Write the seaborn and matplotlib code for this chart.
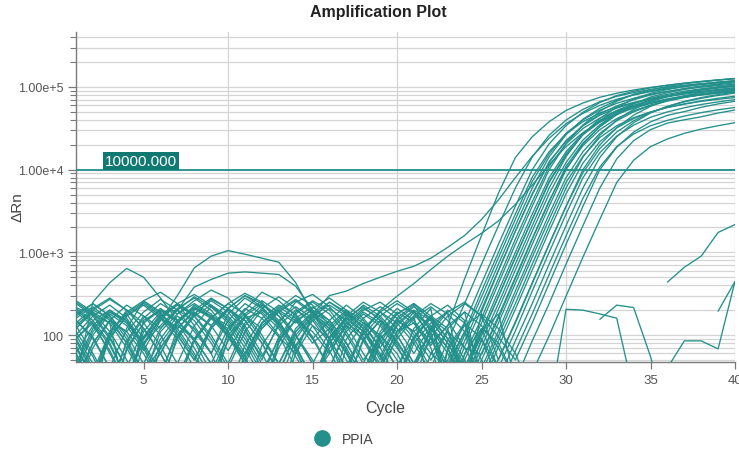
import numpy as np
import pandas as pd
import matplotlib
matplotlib.use("Agg")
import matplotlib.pyplot as plt
import seaborn as sns
from matplotlib.ticker import FixedLocator, FixedFormatter, LogLocator, NullFormatter
from matplotlib.lines import Line2D

nan = float("nan")

# ---- chart values -------------------------------------------------------
cycles = list(range(1, 41))
target = "PPIA"
threshold = 10000.0
y_major = [1e2, 1e3, 1e4, 1e5]
y_major_labels = ["100", "1.00e+3", "1.00e+4", "1.00e+5"]
x_ticks = [5, 10, 15, 20, 25, 30, 35, 40]
x_grid = [10, 20, 30, 40]

# Delta Rn per cycle (cycles 1-20, then 21-40) for each well
well_01 = [215, 175, 140, 15, 150, 200, 140, 70, 30, 85, 160, 190, 120, 55, 25, 70, 130, 90, 45, 110,
           140, 75, 130, 480, 1600, 5200, 14000, 25000, 38000, 52000, 64000, 75000, 84000, 92000, 99000, 105000, 111000, 116000, 121000, 126000]
well_02 = [30, 250, 430, 640, 500, 280, 150, 90, 45, 120, 210, 160, 95, 60, 180, 300, 340, 420, 500, 590,
           680, 850, 1150, 1600, 2500, 4300, 8000, 14500, 24000, 36000, 48000, 60000, 71000, 80000, 88000, 95000, 101000, 107000, 112000, 117000]
well_03 = [60, 25, 110, 180, 90, 150, 300, 650, 900, 1050, 950, 850, 760, 430, 180, 90, 40, 110, 200, 295,
           420, 620, 900, 1250, 1700, 2400, 3800, 6500, 11500, 19000, 28000, 38000, 48000, 57000, 65000, 72000, 78000, 83000, 88000, 92000]
well_04 = [90, 140, 60, 25, 110, 190, 200, 380, 470, 560, 580, 560, 540, 390, 200, 90, 25, 90, 150, 100,
           45, 120, 70, 20, 190, 600, 1800, 5000, 12500, 22000, 34000, 47000, 59000, 70000, 80000, 88000, 96000, 103000, 109000, 115000]
well_05 = [150, 95, 40, 120, 260, 330, 240, 130, 60, 20, 75, 160, 230, 180, 95, 40, 110, 180, 130, 70,
           35, 28, 85, 240, 720, 2100, 6000, 14200, 26100, 39800, 53600, 66400, 77000, 85700, 93200, 99500, 104600, 109800, 113900, 117900]
well_06 = [40, 110, 190, 150, 70, 25, 95, 180, 270, 210, 120, 50, 140, 250, 310, 220, 130, 60, 30, 100,
           170, 18, 50, 140, 420, 1250, 3600, 10000, 20500, 34100, 49500, 64800, 78800, 88800, 97500, 105000, 111300, 116900, 121900, 126300]
well_07 = [120, 200, 160, 80, 30, 60, 150, 210, 170, 100, 45, 15, 80, 190, 260, 200, 110, 50, 90, 150,
           110, 60, 40, 110, 340, 1000, 2900, 8100, 16500, 27000, 38000, 48500, 57500, 65000, 72000, 77500, 82500, 87000, 90500, 93500]
well_08 = [70, 30, 90, 170, 230, 160, 90, 40, 120, 210, 300, 240, 150, 70, 30, 80, 160, 220, 150, 80,
           40, 95, 28, 85, 240, 720, 2100, 6000, 14300, 26500, 40700, 55300, 69000, 80400, 89400, 97200, 103800, 109200, 114600, 118800]
well_09 = [180, 240, 170, 90, 35, 70, 130, 90, 45, 15, 60, 140, 200, 150, 80, 120, 190, 140, 70, 30,
           90, 160, 24, 72, 205, 610, 1800, 5100, 12200, 22500, 34000, 45500, 55500, 64000, 71500, 78000, 83500, 88000, 92500, 96000]
well_10 = [25, 80, 150, 110, 190, 270, 200, 110, 60, 150, 240, 180, 100, 40, 20, 90, 170, 250, 190, 120,
           60, 130, 34, 100, 290, 860, 2500, 7200, 15500, 27500, 40000, 52500, 63500, 73000, 81500, 88500, 94500, 99500, 104000, 108000]
well_11 = [100, 170, 230, 160, 80, 130, 210, 280, 200, 110, 55, 20, 70, 160, 220, 150, 80, 35, 110, 190,
           140, 70, 18, 50, 140, 420, 1250, 3600, 10000, 20700, 34700, 50700, 67000, 81900, 92300, 101400, 109200, 115700, 121600, 126800]
well_12 = [210, 150, 80, 30, 95, 180, 120, 60, 25, 110, 200, 330, 260, 170, 90, 150, 230, 160, 90, 40,
           120, 210, 14, 40, 112, 340, 1000, 2900, 8000, 16500, 27500, 39000, 50000, 60000, 68500, 76000, 82500, 88000, 93000, 97500]
well_13 = [55, 20, 100, 200, 140, 75, 30, 90, 170, 130, 60, 140, 210, 300, 230, 130, 65, 25, 80, 160,
           230, 110, 20, 58, 160, 480, 1440, 4100, 11000, 20500, 31500, 42000, 51500, 58500, 64000, 70000, 75500, 80000, 84000, 87500]
well_14 = [130, 60, 25, 80, 160, 240, 180, 260, 350, 280, 170, 90, 45, 120, 190, 140, 70, 30, 100, 180,
           240, 150, 80, 35, 100, 295, 875, 2500, 7000, 15000, 26500, 39500, 52000, 63000, 73000, 81500, 89000, 95000, 100500, 105500]
well_15 = [20, 70, 150, 230, 170, 100, 45, 130, 220, 160, 90, 40, 15, 75, 150, 210, 150, 85, 40, 110,
           190, 130, 70, 28, 85, 240, 720, 2100, 6000, 14350, 26900, 41600, 57000, 71700, 83800, 93100, 101300, 108100, 113800, 119400]
well_16 = [160, 220, 150, 80, 35, 90, 170, 120, 60, 180, 280, 210, 130, 65, 25, 95, 160, 110, 55, 140,
           200, 90, 40, 24, 72, 205, 610, 1800, 5100, 12200, 22800, 35000, 47500, 59500, 70000, 78500, 86000, 92500, 98000, 103000]
well_17 = [90, 40, 15, 65, 140, 200, 150, 85, 160, 240, 320, 250, 140, 75, 30, 60, 130, 200, 250, 180,
           100, 50, 110, 34, 100, 290, 860, 2500, 7200, 15500, 26500, 37500, 47000, 55500, 63000, 70000, 75500, 80500, 85000, 89000]
well_18 = [250, 180, 95, 40, 120, 60, 140, 230, 170, 100, 50, 130, 190, 260, 180, 110, 50, 20, 90, 150,
           110, 170, 120, 20, 60, 170, 500, 1470, 4200, 10300, 19500, 30500, 41500, 51500, 60500, 68500, 75500, 81500, 87000, 91500]
well_19 = [35, 100, 180, 130, 65, 150, 240, 170, 90, 40, 110, 200, 140, 70, 160, 250, 190, 120, 55, 25,
           80, 140, 190, 18, 50, 140, 420, 1250, 3600, 10000, 20300, 33500, 48200, 62600, 75600, 85200, 93600, 100800, 106800, 112200]
well_20 = [140, 210, 280, 200, 120, 60, 25, 85, 160, 120, 180, 260, 190, 100, 45, 110, 180, 130, 70, 150,
           220, 160, 90, 45, 40, 112, 340, 1000, 2900, 8000, 16500, 27500, 39000, 50000, 59500, 67500, 74500, 81000, 86500, 91000]
well_21 = [75, 30, 110, 190, 260, 190, 100, 50, 120, 200, 150, 80, 35, 100, 170, 230, 170, 95, 40, 90,
           160, 220, 150, 70, 58, 160, 480, 1440, 4100, 11000, 21000, 33000, 46000, 58000, 68500, 77500, 85000, 91500, 97000, 102000]
well_22 = [190, 130, 65, 25, 90, 170, 240, 310, 230, 150, 80, 35, 90, 150, 110, 60, 140, 210, 160, 85,
           40, 120, 200, 140, 35, 98, 295, 875, 2500, 7000, 14500, 24500, 34000, 42500, 50000, 56500, 62000, 67000, 71000, 74500]
well_23 = [110, 55, 20, 85, 170, 120, 200, 290, 220, 140, 70, 30, 95, 180, 250, 180, 100, 45, 130, 210,
           150, 80, 130, 190, 28, 85, 240, 720, 2100, 6000, 14200, 26100, 39800, 53600, 66400, 77000, 85700, 93200, 99500, 104600]
well_24 = [60, 130, 200, 150, 80, 35, 100, 180, 130, 210, 300, 220, 130, 65, 25, 80, 140, 100, 170, 240,
           180, 100, 45, 110, 24, 72, 205, 610, 1800, 5100, 12000, 21800, 32000, 41500, 49500, 56500, 62500, 68000, 73000, 77500]
well_25 = [240, 170, 90, 40, 15, 70, 140, 210, 160, 95, 45, 120, 190, 140, 210, 280, 200, 120, 60, 25,
           95, 170, 230, 150, 17, 51, 145, 430, 1260, 3600, 9200, 18000, 28500, 39000, 49000, 58000, 66000, 73000, 79000, 84500]
well_26 = [170, 240, 170, 100, 45, 120, 200, 150, 80, 35, 15, 75, 150, 220, 160, 90, 150, 230, 170, 100,
           45, 110, 190, 250, 170, 50, 140, 420, 1250, 3600, 10000, 19900, 32200, 45600, 58300, 69300, 78100, 85800, 92400, 97900]
well_27 = [85, 35, 110, 180, 250, 180, 110, 55, 20, 90, 170, 120, 200, 270, 190, 120, 60, 25, 100, 180,
           240, 170, 90, 40, 120, 40, 112, 340, 1000, 2900, 8000, 16000, 25500, 34500, 43000, 50000, 56000, 61500, 66000, 70500]
well_28 = [200, 140, 75, 30, 95, 170, 240, 180, 260, 190, 110, 55, 130, 200, 150, 80, 35, 110, 190, 260,
           190, 120, 60, 25, 90, 28, 85, 240, 720, 2100, 6000, 14000, 25000, 37000, 48500, 58500, 67000, 74500, 81000, 86500]
well_29 = [45, 120, 190, 140, 75, 160, 230, 170, 100, 45, 130, 210, 290, 210, 130, 65, 25, 85, 150, 110,
           170, 240, 180, 110, 50, 21, 64, 180, 540, 1580, 4500, 10800, 19000, 27000, 34000, 39500, 44500, 49000, 53000, 56500]
well_30 = [130, 200, 270, 200, 120, 60, 25, 90, 160, 110, 55, 140, 220, 160, 90, 40, 120, 190, 140, 75,
           30, 95, 170, 240, 170, 95, 50, 140, 420, 1250, 3600, 10000, 18700, 28500, 37800, 45400, 50400, 56800, 62400, 67200]
well_31 = [260, 190, 110, 50, 20, 80, 150, 220, 160, 240, 180, 100, 45, 110, 180, 250, 180, 110, 50, 130,
           200, 150, 80, 35, 110, 180, 28, 85, 240, 720, 2100, 6000, 13500, 22400, 30500, 36600, 40100, 43600, 48400, 52700]
well_32 = [100, 45, 15, 70, 140, 210, 150, 85, 35, 100, 170, 240, 170, 100, 50, 20, 90, 160, 220, 160,
           90, 40, 120, 190, 130, 70, 30, 35, 98, 295, 875, 2500, 7000, 13000, 19000, 23500, 27500, 31000, 34000, 37000]
# wells without amplification (gaps where Delta Rn is not positive)
well_33 = [30, 80, 150, 110, 60, 25, 90, 170, 230, 170, 100, 45, 15, 60, 130, 90, 40, 120, 190, 140,
           80, 35, 10, 60, 120, 80, 30, 15, 12, 205, 200, 180, 160, 20, 8, 12, 6, 9, 5, 8]
well_34 = [150, 90, 40, 15, 80, 160, 120, 200, 280, 210, 130, 60, 25, 90, 170, 120, 60, 25, 10, 40,
           95, 160, 110, 50, 20, 8, 10, 6, 9, 12, nan, 155, 230, 215, 55, 10, 8, 6, 9, 7]
well_35 = [60, 25, 95, 170, 240, 170, 100, 50, 130, 210, 150, 80, 35, 110, 180, 130, 200, 150, 85, 40,
           15, 60, 110, 70, 30, 10, 8, 6, 5, 7, 9, 6, 8, 5, nan, 436, 660, 900, 1740, 2170]
well_36 = [120, 190, 140, 70, 30, 110, 180, 240, 180, 110, 50, 20, 85, 150, 200, 150, 80, 35, 100, 60,
           25, 10, 70, 140, 90, 40, 15, 8, 6, 5, 9, 7, 6, 10, 8, 40, 85, 85, 68, 445]
well_37 = [90, 150, 200, 140, 75, 30, 120, 190, 130, 65, 140, 230, 170, 100, 45, 15, 70, 140, 100, 50,
           20, 8, 65, 130, 180, 120, 60, 20, 7, 5, 6, 8, 5, 7, 6, 9, 5, nan, 194, 445]

wells = {
    "A1": well_01, "A2": well_02, "A3": well_03, "A4": well_04, "A5": well_05,
    "A6": well_06, "A7": well_07, "A8": well_08, "A9": well_09, "A10": well_10,
    "B1": well_11, "B2": well_12, "B3": well_13, "B4": well_14, "B5": well_15,
    "B6": well_16, "B7": well_17, "B8": well_18, "B9": well_19, "B10": well_20,
    "C1": well_21, "C2": well_22, "C3": well_23, "C4": well_24, "C5": well_25,
    "C6": well_26, "C7": well_27, "C8": well_28, "C9": well_29, "C10": well_30,
    "D1": well_31, "D2": well_32, "D3": well_33, "D4": well_34, "D5": well_35,
    "D6": well_36, "D7": well_37,
}

# ---- long-form table; a missing value splits a well into separate runs ----
rows = []
for name, values in wells.items():
    run, broken = 0, True
    for cyc, val in zip(cycles, values):
        if val != val:
            broken = True
            continue
        if broken:
            run += 1
            broken = False
        rows.append({"well": name, "run": f"{name}-{run}", "Cycle": cyc,
                     "dRn": val, "target": target})
df = pd.DataFrame(rows)

# ---- styling ----
teal = "#23908b"
teal_dark = "#107a72"
grid_c = "#d4d4d4"
axis_c = "#7a7a7a"
tick_text = "#555555"

sns.set_theme(style="white")
plt.rcParams["font.family"] = ["Liberation Sans", "DejaVu Sans"]

W, H = 739, 452
fig = plt.figure(figsize=(W / 100, H / 100), dpi=100)
x0, x1, y_top, y_bot = 76, 735, 33, 363
ax = fig.add_axes([x0 / W, 1 - y_bot / H, (x1 - x0) / W, (y_bot - y_top) / H])
ax.set_yscale("log")

sns.lineplot(data=df, x="Cycle", y="dRn", units="run", estimator=None,
             color=teal, linewidth=0.95, legend=False, ax=ax, zorder=3)

ax.set_xlim(1, 40)
ax.set_ylim(10 ** 1.674, 10 ** 5.665)

# grid: every decade and sub-decade horizontally, every 10 cycles vertically
ax.yaxis.set_major_locator(FixedLocator(y_major))
ax.yaxis.set_major_formatter(FixedFormatter(y_major_labels))
ax.yaxis.set_minor_locator(LogLocator(base=10, subs=[2, 3, 4, 5, 6, 7, 8, 9]))
ax.yaxis.set_minor_formatter(NullFormatter())
ax.yaxis.grid(True, which="both", color=grid_c, linewidth=0.9, zorder=0)
for xg in x_grid:
    ax.axvline(xg, color=grid_c, linewidth=0.9, zorder=0)
ax.set_axisbelow(True)

ax.set_xticks(x_ticks)
ax.set_xticklabels([str(t) for t in x_ticks])

sns.despine(ax=ax)
for side in ("left", "bottom"):
    ax.spines[side].set_color(axis_c)
    ax.spines[side].set_linewidth(1.0)

ax.tick_params(axis="y", which="major", length=6, width=0.9, color=axis_c,
               labelsize=9, labelcolor=tick_text, pad=3, left=True)
ax.tick_params(axis="y", which="minor", length=4, width=0.8, color=axis_c, left=True)
ax.tick_params(axis="x", which="major", length=5, width=0.9, color=axis_c,
               labelsize=9.5, labelcolor=tick_text, pad=4, bottom=True)

# threshold line with its value tag
ax.axhline(threshold, color=teal, linewidth=1.3, zorder=4)
ax.text(4.85, threshold * 1.27, f"{threshold:.3f}", ha="center", va="center",
        fontsize=11, color="white", zorder=5,
        bbox=dict(boxstyle="square,pad=0.12", facecolor=teal_dark, edgecolor="none"))

# labels
ax.set_xlabel("Cycle", fontsize=11.5, color="#444444")
ax.xaxis.set_label_coords((385 - x0) / (x1 - x0), (y_bot - 401) / (y_bot - y_top))
ax.set_ylabel("\u0394Rn", fontsize=11, color="#444444")
ax.yaxis.set_label_coords((25 - x0) / (x1 - x0), (y_bot - 207) / (y_bot - y_top))
fig.text(378 / W, 1 - 13 / H, "Amplification Plot", ha="center", va="center",
         fontsize=11.5, fontweight="bold", color="#222222")

handle = Line2D([], [], marker="o", linestyle="", color=teal, markersize=11)
fig.legend([handle], [target], loc="center", bbox_to_anchor=(341 / W, 1 - 440 / H),
           frameon=False, fontsize=10, handletextpad=0.4, labelcolor="#444444")

fig.savefig("out.png", dpi=100)
